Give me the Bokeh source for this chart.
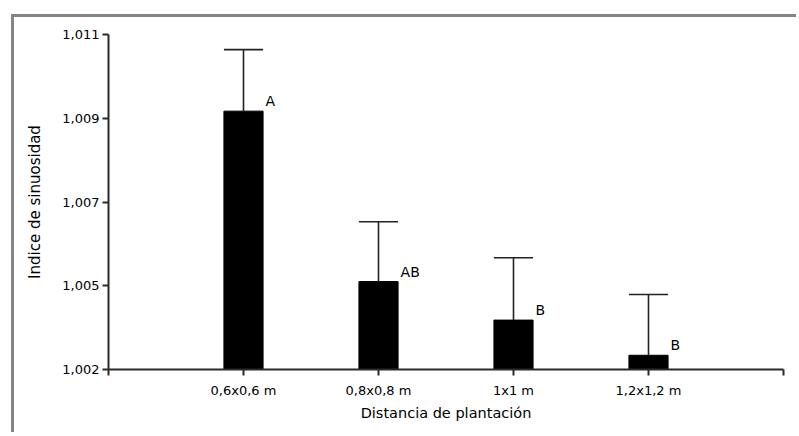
from bokeh.plotting import figure
from bokeh.models import FixedTicker, ColumnDataSource
from bokeh.core.properties import value
from bokeh.embed import file_html
from bokeh.resources import INLINE

# ---- data ----
categories = ["0,6x0,6 m", "0,8x0,8 m", "1x1 m", "1,2x1,2 m"]
means = [1.00917, 1.00510, 1.00418, 1.00334]
errors = [0.00147, 0.00143, 0.00149, 0.00145]
letters = ["A", "AB", "B", "B"]
y_tick_values = [1.003, 1.005, 1.007, 1.009, 1.011]
y_tick_labels = ["1,002", "1,005", "1,007", "1,009", "1,011"]
y_min, y_max = 1.003, 1.011

positions = list(range(1, len(categories) + 1))
bar_w = 0.29
upper = [m + e for m, e in zip(means, errors)]

src = ColumnDataSource(dict(
    x=positions, top=means, up=upper, lab=letters,
    xl=[x - bar_w / 2 for x in positions],
    xr=[x + bar_w / 2 for x in positions],
))

FONT = "DejaVu Sans"

p = figure(width=785, height=418, output_backend="svg", toolbar_location=None,
           x_range=(0, len(categories) + 1), y_range=(y_min, y_max),
           min_border_left=94, min_border_top=17, min_border_bottom=66,
           min_border_right=16,
           styles={"margin-left": "11px", "margin-top": "14px",
                   "border-left": "3px solid #858585",
                   "border-top": "3px solid #858585"})
p.outline_line_color = None
p.xgrid.grid_line_color = None
p.ygrid.grid_line_color = None
p.background_fill_color = "white"
p.border_fill_color = "white"

p.vbar(x="x", top="top", bottom=y_min, width=bar_w, source=src,
       fill_color="black", line_color="black")
p.segment(x0="x", y0="top", x1="x", y1="up", source=src,
          line_color="#222222", line_width=1.6)
p.segment(x0="xl", y0="up", x1="xr", y1="up", source=src,
          line_color="#222222", line_width=1.6)
p.text(x="xr", y="top", text="lab", source=src, x_offset=2.5, y_offset=-10,
       text_font=value(FONT), text_font_size="14px", text_color="black",
       text_baseline="alphabetic", text_align="left")

# axes
xax = p.xaxis[0]
xax.ticker = FixedTicker(ticks=list(range(0, len(categories) + 2)))
xax.major_label_overrides = {0: "", len(categories) + 1: "",
                             **{i + 1: c for i, c in enumerate(categories)}}
xax.minor_tick_line_color = None
xax.axis_label = "Distancia de plantación"

yax = p.yaxis[0]
yax.ticker = FixedTicker(ticks=y_tick_values)
yax.major_label_overrides = {v: l for v, l in zip(y_tick_values, y_tick_labels)}
yax.minor_tick_line_color = None
yax.axis_label = "Indice de sinuosidad"

for ax in (xax, yax):
    ax.axis_line_color = "#2a2a2a"
    ax.axis_line_width = 2
    ax.major_tick_line_color = "#2a2a2a"
    ax.major_tick_line_width = 2
    ax.major_tick_out = 6
    ax.major_tick_in = 0
    ax.major_label_text_font = FONT
    ax.major_label_text_font_size = "13px"
    ax.major_label_text_color = "black"
    ax.axis_label_text_font = FONT
    ax.axis_label_text_font_style = "normal"
    ax.axis_label_text_color = "black"

xax.major_label_standoff = 7
xax.axis_label_standoff = 4
xax.axis_label_text_font_size = "14.5px"
yax.major_label_standoff = 3
yax.axis_label_standoff = 15
yax.axis_label_text_font_size = "15px"

open("out.html", "w").write(file_html(p, INLINE))
